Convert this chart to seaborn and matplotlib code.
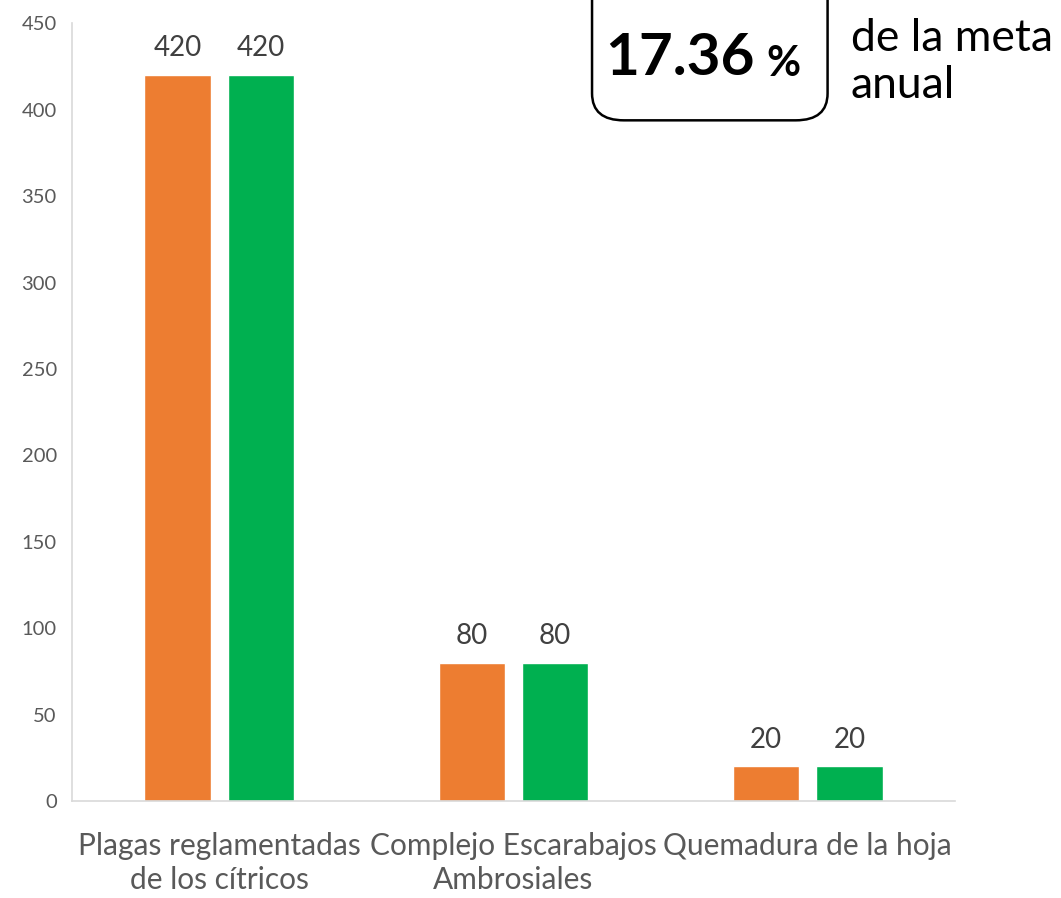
import matplotlib
matplotlib.use("Agg")
import matplotlib.pyplot as plt
import seaborn as sns
import pandas as pd
from matplotlib.patches import FancyBboxPatch

# Data
categories = ["Plagas reglamentadas\nde los cítricos",
              "Complejo Escarabajos\nAmbrosiales",
              "Quemadura de la hoja"]
programado = [420, 80, 20]
realizado = [420, 80, 20]
series = ["Programado", "Realizado"]
colors = ["#ED7D31", "#00B050"]
yticks = [0, 50, 100, 150, 200, 250, 300, 350, 400, 450]

df = pd.DataFrame({
    "categoria": categories * 2,
    "serie": [series[0]] * 3 + [series[1]] * 3,
    "valor": programado + realizado,
})

sns.set_style("white")
plt.rcParams["font.family"] = ["Lato", "DejaVu Sans"]

fig = plt.figure(figsize=(10.61, 8.98), dpi=100)
ax = fig.add_axes([0.068, 0.108, 0.832, 0.866])

sns.barplot(data=df, x="categoria", y="valor", hue="serie",
            palette=colors, width=0.565, gap=0.2, saturation=1,
            legend=False, ax=ax)

for cont in ax.containers:
    ax.bar_label(cont, fontsize=20, color="#404040", padding=10)

ax.set_ylim(0, 450)
ax.set_yticks(yticks)
ax.set_xlabel("")
ax.set_ylabel("")
ax.tick_params(axis="y", labelsize=14.5, colors="#595959", length=5,
               color="#D9D9D9", pad=6)
ax.tick_params(axis="x", labelsize=21.5, colors="#595959", length=0, pad=22)
for lbl in ax.get_xticklabels():
    lbl.set_linespacing(1.3)
for s in ["top", "right"]:
    ax.spines[s].set_visible(False)
for s in ["left", "bottom"]:
    ax.spines[s].set_color("#D9D9D9")
    ax.spines[s].set_linewidth(1.2)

# Annotation box with percentage of annual goal
box = FancyBboxPatch((0.558, 0.866), 0.222, 0.20,
                     boxstyle="round,pad=0,rounding_size=0.03",
                     transform=fig.transFigure, facecolor="white",
                     edgecolor="black", linewidth=1.8, clip_on=False)
fig.patches.append(box)
fig.text(0.570, 0.935, "17.36", fontsize=42, fontweight="bold",
         ha="left", va="center", color="black")
fig.text(0.722, 0.929, "%", fontsize=30, fontweight="bold",
         ha="left", va="center", color="black")
fig.text(0.802, 0.931, "de la meta\nanual", fontsize=32, ha="left",
         va="center", color="black", linespacing=1.2)

fig.savefig("out.png", dpi=100)
